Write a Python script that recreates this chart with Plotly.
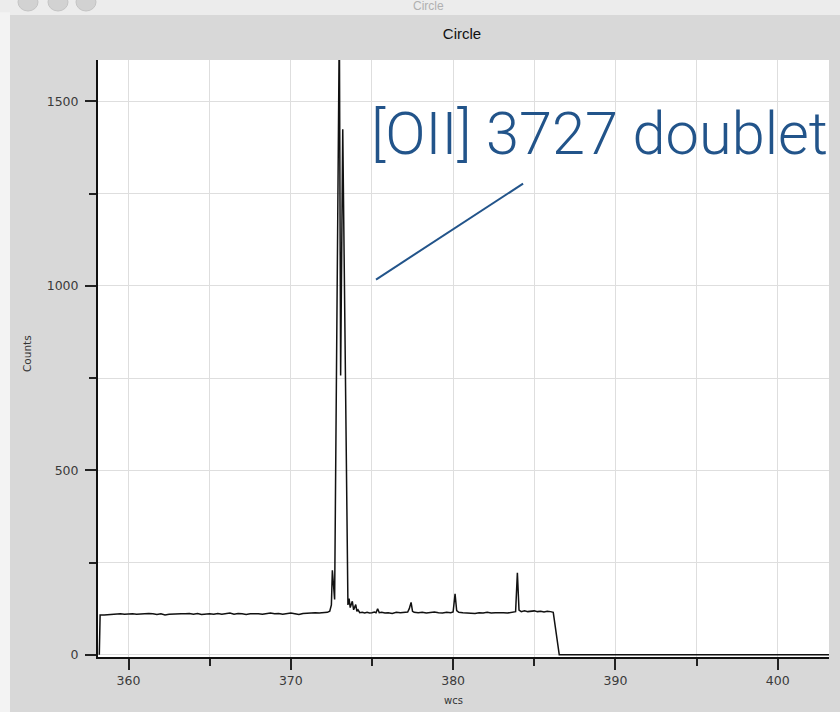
import plotly.graph_objects as go

# Spectrum extracted from the "Circle" region: wavelength (wcs) vs counts
wcs = [
    358.20, 358.25, 358.50, 358.75, 359.00, 359.25, 359.50, 359.75, 360.00, 360.25,
    360.50, 360.75, 361.00, 361.25, 361.50, 361.75, 362.00, 362.25, 362.50, 362.75,
    363.00, 363.25, 363.50, 363.75, 364.00, 364.25, 364.50, 364.75, 365.00, 365.25,
    365.50, 365.75, 366.00, 366.25, 366.50, 366.75, 367.00, 367.25, 367.50, 367.75,
    368.00, 368.25, 368.50, 368.75, 369.00, 369.25, 369.50, 369.75, 370.00, 370.25,
    370.50, 370.75, 371.00, 371.25, 371.50, 371.75, 372.00, 372.25, 372.40, 372.50,
    372.56, 372.66, 372.70, 372.99, 373.07, 373.20, 373.52, 373.59, 373.66, 373.79,
    373.87, 374.00, 374.07, 374.14, 374.25, 374.40, 374.55, 374.70, 374.85, 375.00,
    375.15, 375.25, 375.35, 375.45, 375.60, 375.80, 376.00, 376.25, 376.50, 376.75,
    377.00, 377.20, 377.30, 377.41, 377.50, 377.60, 377.85, 378.10, 378.35, 378.60,
    378.85, 379.10, 379.35, 379.60, 379.85, 380.00, 380.12, 380.22, 380.35, 380.60,
    380.85, 381.10, 381.35, 381.60, 381.85, 382.10, 382.35, 382.60, 382.85, 383.10,
    383.35, 383.60, 383.85, 383.96, 384.06, 384.20, 384.40, 384.60, 384.80, 385.00,
    385.20, 385.40, 385.60, 385.80, 386.00, 386.17, 386.54, 403.50,
]
counts = [
    0, 108, 108, 109, 110, 111, 111, 110, 111, 111,
    110, 111, 111, 112, 111, 109, 111, 108, 110, 111,
    112, 111, 111, 112, 110, 112, 109, 111, 111, 110,
    112, 110, 111, 113, 110, 112, 111, 109, 111, 112,
    111, 110, 112, 113, 111, 112, 110, 112, 113, 111,
    109, 112, 113, 112, 114, 113, 114, 115, 118, 135,
    229, 152, 150, 1720, 757, 1424, 135, 152, 128, 145,
    122, 136, 118, 122, 114, 115, 113, 115, 113, 114,
    116, 114, 125, 114, 115, 113, 114, 112, 115, 114,
    115, 116, 125, 142, 118, 115, 114, 115, 113, 114,
    116, 114, 113, 115, 114, 116, 165, 120, 115, 114,
    113, 114, 112, 114, 113, 115, 113, 114, 115, 114,
    113, 115, 117, 222, 121, 117, 119, 117, 118, 119,
    117, 118, 116, 118, 117, 115, 0, 0,
]

x_ticks = [360, 370, 380, 390, 400]
y_ticks = [0, 500, 1000, 1500]

BLUE = "#22548a"
TICK_FONT = dict(family="DejaVu Sans", size=12.5, color="#3a3a3a")

fig = go.Figure()
fig.add_trace(go.Scatter(
    x=wcs, y=counts, mode="lines",
    line=dict(color="#111111", width=1.5),
    showlegend=False, hoverinfo="skip",
))

axis_common = dict(
    showline=True, linecolor="#111111", linewidth=2,
    ticks="outside", ticklen=11, tickwidth=1.5, tickcolor="#222222",
    showgrid=True, gridcolor="#dedede", gridwidth=1,
    zeroline=False, tickfont=TICK_FONT,
)

fig.update_xaxes(
    range=[358.12, 403.16], tickvals=x_ticks,
    minor=dict(dtick=5, tick0=0, ticks="outside", ticklen=7, tickwidth=1.5,
               tickcolor="#222222", showgrid=True, gridcolor="#dedede"),
    **axis_common,
)
fig.update_yaxes(
    range=[-6, 1612], tickvals=y_ticks,
    minor=dict(dtick=250, tick0=0, ticks="outside", ticklen=7, tickwidth=1.5,
               tickcolor="#222222", showgrid=True, gridcolor="#dedede"),
    ticklabelstandoff=4,
    **axis_common,
)

# window chrome: light title strip, left edge and the three window buttons
shapes = [
    dict(type="rect", xref="paper", yref="paper", x0=-0.2, x1=1.1, y0=1.0754, y1=1.2,
         fillcolor="#ececec", line_width=0, layer="below"),
    dict(type="rect", xref="paper", yref="paper", x0=-0.2, x1=-0.1204, y0=-0.2, y1=1.08,
         fillcolor="#f3f3f3", line_width=0, layer="below"),
]
for cx in [28, 58, 86]:
    px0 = (cx - 10 - 98) / 731
    px1 = (cx + 10 - 98) / 731
    shapes.append(dict(type="circle", xref="paper", yref="paper",
                       x0=px0, x1=px1, y0=(657 + 7) / 597, y1=(657 - 11) / 597,
                       fillcolor="#d2d2d2", line=dict(color="#c4c4c4", width=1)))

# pointer from the label toward the doublet
shapes.append(dict(type="line", xref="x", yref="y", x0=375.25, y0=1017, x1=384.31, y1=1277,
                   line=dict(color=BLUE, width=2)))

annotations = [
    dict(text="Circle", xref="paper", yref="paper", x=(428 - 98) / 731, y=(657 - 6) / 597,
         showarrow=False, font=dict(family="Liberation Sans", size=12, color="#b0b0b0"),
         xanchor="center", yanchor="middle"),
    dict(text="Counts", xref="paper", yref="paper", x=(27 - 98) / 731, y=(657 - 354) / 597,
         textangle=-90, showarrow=False,
         font=dict(family="DejaVu Sans", size=10.5, color="#333333"),
         xanchor="center", yanchor="middle"),
    dict(text="wcs", xref="paper", yref="paper", x=(453 - 98) / 731, y=(657 - 700) / 597,
         showarrow=False, font=dict(family="DejaVu Sans", size=10, color="#333333"),
         xanchor="center", yanchor="middle"),
    dict(text="[OII] 3727 doublet", xref="paper", yref="paper",
         x=(369 - 98) / 731, y=(657 - 134) / 597,
         showarrow=False, font=dict(family="Roboto", size=59.5, color=BLUE, weight=300),
         xanchor="left", yanchor="middle"),
]

fig.update_layout(
    width=840, height=712,
    margin=dict(l=98, r=11, t=60, b=55),
    paper_bgcolor="#d8d8d8", plot_bgcolor="#ffffff",
    title=dict(text="Circle", x=(462 - 98) / 731, xref="paper", y=1 - 34 / 712,
               xanchor="center", yanchor="middle",
               font=dict(family="Liberation Sans", size=15, color="#111111")),
    shapes=shapes, annotations=annotations,
)

fig.write_html("out.html")
